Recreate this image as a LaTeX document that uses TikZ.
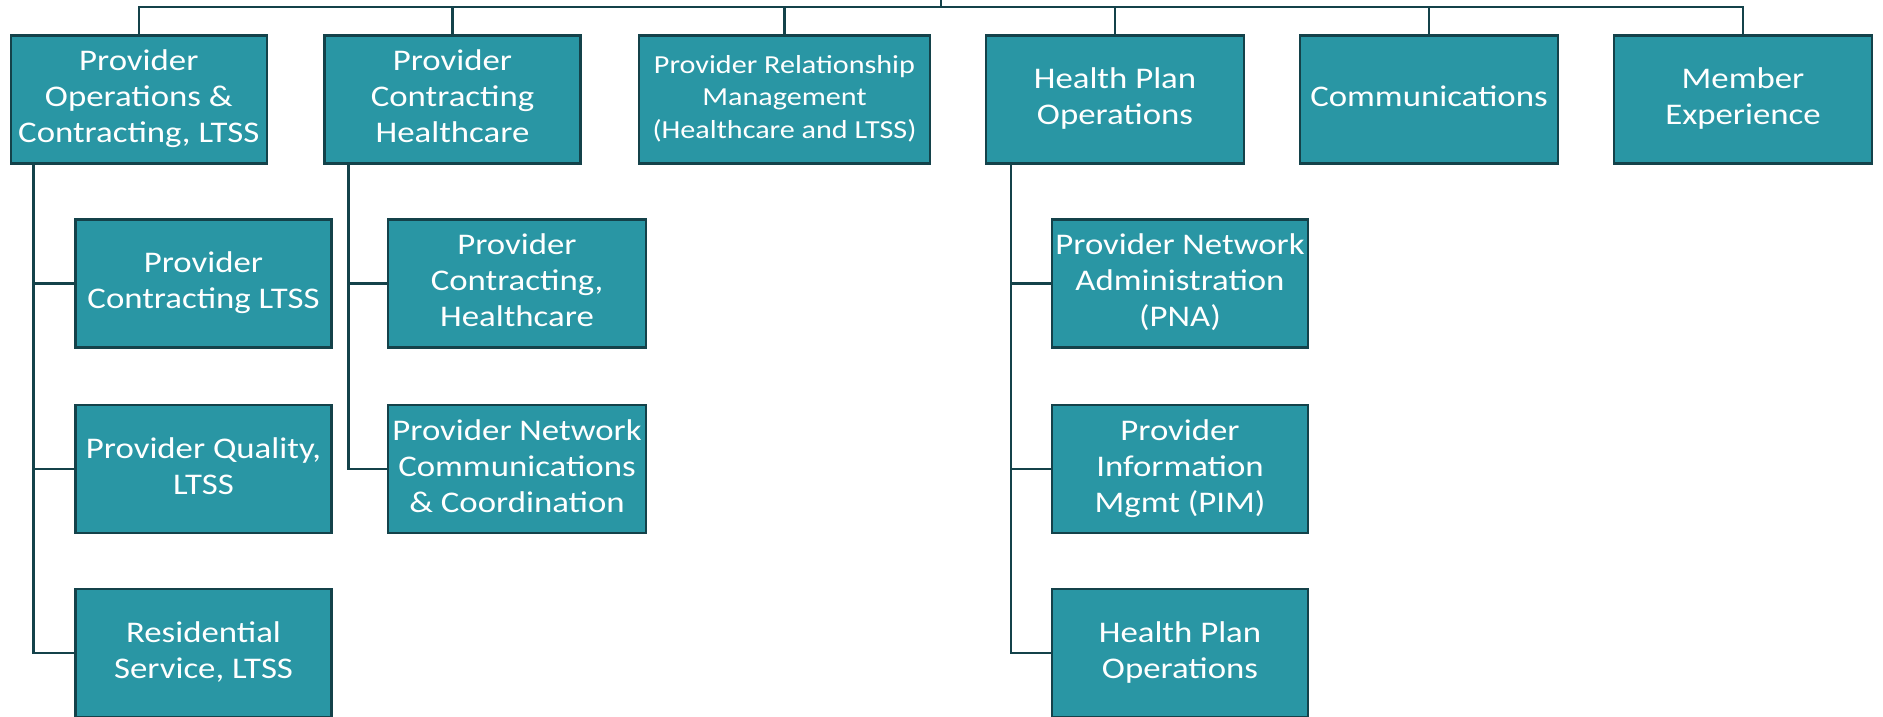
\documentclass[tikz,border=0pt]{standalone}
\usepackage{fontspec}
\setmainfont{Carlito}
\definecolor{boxfill}{RGB}{41,150,164}
\definecolor{boxline}{RGB}{20,66,74}
\newcommand{\wtext}[1]{\scalebox{1.16}[1]{\begin{tabular}{@{}c@{}}#1\end{tabular}}}
\tikzset{
  unit/.style={draw=boxline, line width=2.5pt, fill=boxfill, text=white,
    font=\fontsize{30}{36}\selectfont, inner sep=0pt, minimum height=128pt},
  small/.style={font=\fontsize{26}{32.5}\selectfont},
  link/.style={draw=boxline, line width=2.5pt},
}
\begin{document}
\begin{tikzpicture}[x=1pt,y=-1pt]
\useasboundingbox (0,0) rectangle (1883,717);
\clip (0,0) rectangle (1883,717);
% top row
\node[unit, minimum width=256pt] (b1) at (138.8,99.3) {\wtext{Provider\\Operations \&\\Contracting, LTSS}};
\node[unit, minimum width=256pt] (b2) at (452.5,99.3) {\wtext{Provider\\Contracting\\Healthcare}};
\node[unit, small, minimum width=291pt] (b3) at (784.5,99.3) {\wtext{Provider Relationship\\Management\\(Healthcare and LTSS)}};
\node[unit, minimum width=258pt] (b4) at (1115,99.3) {\wtext{Health Plan\\Operations}};
\node[unit, minimum width=258pt] (b5) at (1429,99.3) {\wtext{Communications}};
\node[unit, minimum width=258pt] (b6) at (1743,99.3) {\wtext{Member\\Experience}};
% bus
\coordinate (bus) at (941,7);
\coordinate (up) at (941,-5);
\draw[link] (bus) -- (up);
\foreach \b in {b1,b2,b3,b4,b5,b6} \draw[link] (\b.north) |- (bus);
% column 1
\node[unit, minimum width=256pt] (c11) at (203.5,283.5) {\wtext{Provider\\Contracting LTSS}};
\node[unit, minimum width=256pt] (c12) at (203.5,469) {\wtext{Provider Quality,\\LTSS}};
\node[unit, minimum width=256pt] (c13) at (203.5,653) {\wtext{Residential\\Service, LTSS}};
\foreach \c in {c11,c12,c13} \draw[link] ([xshift=24pt]b1.south west) |- (\c.west);
% column 2
\node[unit, minimum width=258pt] (c21) at (517,283.5) {\wtext{Provider\\Contracting,\\Healthcare}};
\node[unit, minimum width=258pt] (c22) at (517,469) {\wtext{Provider Network\\Communications\\\& Coordination}};
\foreach \c in {c21,c22} \draw[link] ([xshift=25pt]b2.south west) |- (\c.west);
% column 4
\node[unit, minimum width=256pt] (c41) at (1180,283.5) {\wtext{Provider Network\\Administration\\(PNA)}};
\node[unit, minimum width=256pt] (c42) at (1180,469) {\wtext{Provider\\Information\\Mgmt (PIM)}};
\node[unit, minimum width=256pt] (c43) at (1180,653) {\wtext{Health Plan\\Operations}};
\foreach \c in {c41,c42,c43} \draw[link] ([xshift=26pt]b4.south west) |- (\c.west);
\end{tikzpicture}
\end{document}
